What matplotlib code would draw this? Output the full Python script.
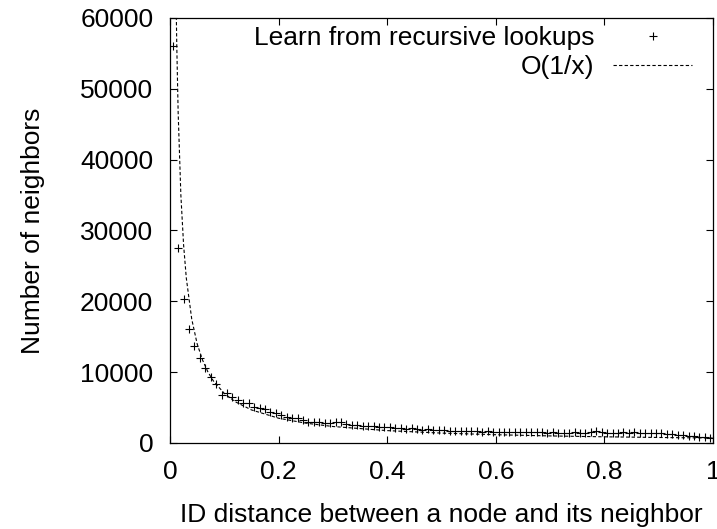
import numpy as np
import matplotlib
matplotlib.use('Agg')
import matplotlib.pyplot as plt

plt.rcParams['font.family'] = ['Liberation Sans', 'DejaVu Sans']

# bin centres of the ID distance histogram (bins of 0.01)
dist = np.arange(0.005, 1.0, 0.01)
neighbors = [56000, 27500, 20300, 16100, 13700, 12000, 10600, 9300, 8300, 6800,
             7100, 6500, 6100, 5700, 5600, 5100, 4900, 4800, 4400, 4200,
             3950, 3700, 3550, 3500, 3250, 3000, 2950, 2950, 2850, 2800,
             2950, 2900, 2700, 2600, 2500, 2450, 2400, 2350, 2300, 2250,
             2200, 2100, 2150, 2000, 2050, 1950, 1900, 1950, 1850, 1800,
             1800, 1700, 1750, 1700, 1650, 1700, 1750, 1600, 1650, 1600,
             1550, 1600, 1550, 1600, 1550, 1500, 1550, 1600, 1500, 1450,
             1500, 1450, 1400, 1450, 1500, 1450, 1400, 1550, 1650, 1500,
             1350, 1450, 1400, 1500, 1450, 1550, 1400, 1400, 1350, 1350,
             1400, 1300, 1250, 1200, 1100, 1000, 950, 850, 800, 700]

# O(1/x) reference curve
fit_x = [0.0115, 0.0125, 0.015, 0.02, 0.025, 0.03, 0.04, 0.05, 0.06, 0.07, 0.08,
         0.1, 0.12, 0.15, 0.2, 0.25, 0.3, 0.4, 0.5, 0.6, 0.7, 0.8, 0.9, 1.0]
fit_y = [61000, 56000, 46700, 35000, 28000, 23300, 17500, 14000, 11700, 10000, 8750,
         7000, 5830, 4670, 3500, 2800, 2330, 1750, 1400, 1170, 1000, 875, 780, 700]

fig = plt.figure(figsize=(7.17, 5.29), dpi=100)
ax = fig.add_axes([170/717, 1 - 443/529, 543/717, 425/529])

ax.plot(dist, neighbors, '+', color='black', markersize=5.5, markeredgewidth=0.8,
        label='Learn from recursive lookups')
ax.plot(fit_x, fit_y, color='black', linestyle=(0, (3, 2)), linewidth=0.8,
        label='O(1/x)')

ax.set_xlim(0, 1)
ax.set_ylim(0, 60000)
ax.set_xticks([0, 0.2, 0.4, 0.6, 0.8, 1])
ax.set_xticklabels(['0', '0.2', '0.4', '0.6', '0.8', '1'])
ax.set_yticks(range(0, 60001, 10000))
ax.tick_params(direction='in', length=5, width=0.8, labelsize=19,
               top=True, right=True, pad=12)
for s in ax.spines.values():
    s.set_linewidth(0.9)

ax.set_xlabel('ID distance between a node and its neighbor', fontsize=19, labelpad=14)
ax.set_ylabel('Number of neighbors', fontsize=19, labelpad=25)

ax.legend(loc='upper right', bbox_to_anchor=(0.981, 1.005), frameon=False,
          markerfirst=False, fontsize=19, handlelength=3, handletextpad=0.7,
          borderaxespad=0, labelspacing=0.19)

fig.savefig('out.png', dpi=100)
